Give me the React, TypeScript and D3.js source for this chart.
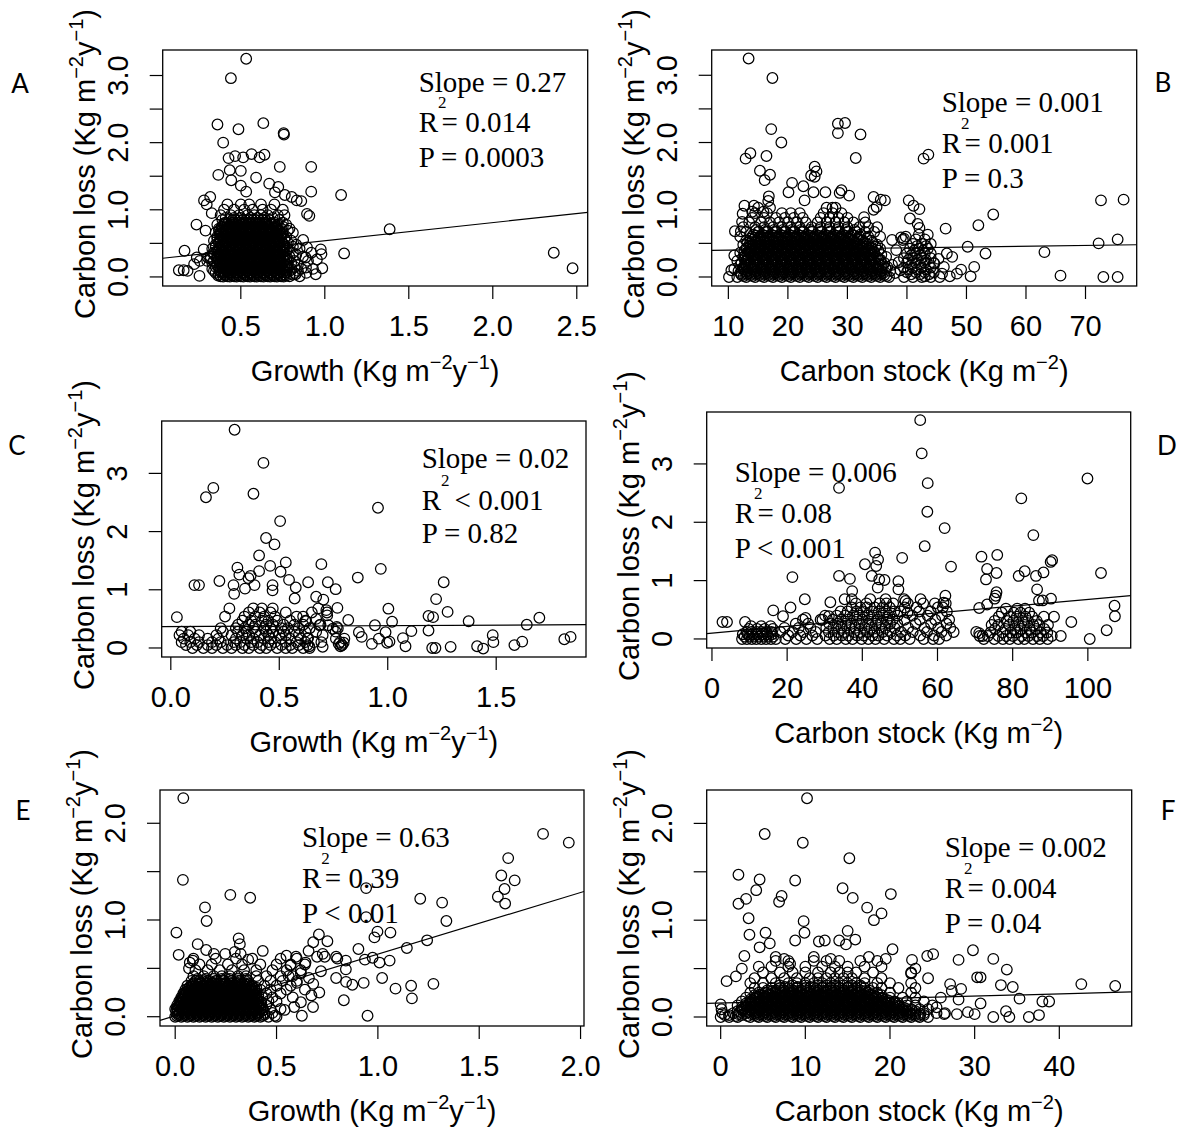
import React from 'react';
import * as d3 from 'd3';

type Pt = [number, number];
type Row = [number, number[]];

// ---------------- Panel A: Growth vs Carbon loss ----------------
const aOutliers: Pt[] = [
  [0.532,3.25],[0.441,2.96],[0.361,2.27],[0.486,2.20],[0.634,2.29],[0.755,2.14],[0.757,2.12],[0.395,2.0],
  [0.427,1.77],[0.466,1.80],[0.514,1.78],[0.564,1.83],[0.612,1.78],[0.641,1.82],[0.919,1.64],[0.732,1.64],
  [0.366,1.52],[0.434,1.59],[0.5,1.58],[0.591,1.48],[0.443,1.44],[0.5,1.36],[0.532,1.27],
  [0.669,1.39],[0.723,1.34],[0.703,1.26],[0.919,1.27],[1.097,1.22],[1.386,0.71],[1.115,0.35],
  [2.363,0.36],[2.475,0.13],[0.131,0.10],[0.16,0.10],[0.183,0.09],[0.165,0.39],[0.236,0.78],[0.254,0.015],
  [0.29,0.69],[0.281,1.14],[0.318,1.19],[0.297,1.08],[0.327,0.95],[0.762,1.22],[0.803,1.19],[0.833,1.14],
  [0.86,1.13],[0.894,0.94],[0.908,0.91],[0.976,0.41],[0.98,0.34],[0.953,0.26],[0.985,0.13],
  [0.238,0.29],[0.256,0.24],[0.279,0.41],[0.304,0.29],[0.222,0.19],[0.871,0.55],[0.894,0.44],[0.885,0.29],
  [0.888,0.14],[0.946,0.04],[0.826,0.04]
];
const aCoreRows: Row[] = [
  [0.01,[0.38,0.42,0.46,0.50,0.54,0.58,0.62,0.66,0.70,0.74,0.79,0.85]],
  [0.06,[0.35,0.40,0.44,0.48,0.52,0.56,0.60,0.64,0.68,0.72,0.77,0.82,0.89]],
  [0.12,[0.33,0.37,0.42,0.46,0.50,0.54,0.58,0.62,0.66,0.70,0.75,0.80,0.86,0.93]],
  [0.18,[0.36,0.40,0.44,0.48,0.52,0.56,0.60,0.64,0.68,0.72,0.78,0.84]],
  [0.24,[0.30,0.34,0.38,0.42,0.46,0.50,0.54,0.58,0.62,0.66,0.71,0.76,0.82,0.90]],
  [0.30,[0.32,0.36,0.40,0.44,0.48,0.52,0.56,0.60,0.64,0.68,0.73,0.79,0.87]],
  [0.36,[0.34,0.38,0.42,0.46,0.50,0.54,0.58,0.62,0.66,0.70,0.75,0.81,0.92]],
  [0.42,[0.33,0.37,0.41,0.45,0.49,0.53,0.57,0.61,0.65,0.69,0.74,0.78,0.85]],
  [0.48,[0.35,0.39,0.43,0.47,0.51,0.55,0.59,0.63,0.67,0.71,0.76,0.83]],
  [0.54,[0.34,0.38,0.42,0.46,0.50,0.54,0.58,0.62,0.66,0.70,0.74,0.80]],
  [0.60,[0.36,0.40,0.44,0.48,0.52,0.56,0.60,0.64,0.68,0.72,0.77]],
  [0.66,[0.35,0.39,0.43,0.47,0.51,0.55,0.59,0.63,0.67,0.71,0.75,0.81]],
  [0.72,[0.37,0.41,0.45,0.49,0.53,0.57,0.61,0.65,0.69,0.74,0.79]],
  [0.78,[0.36,0.40,0.44,0.48,0.52,0.56,0.60,0.64,0.68,0.72,0.77]],
  [0.85,[0.39,0.43,0.47,0.51,0.55,0.59,0.63,0.67,0.73]],
  [0.92,[0.38,0.44,0.49,0.54,0.58,0.62,0.66,0.72,0.76]],
  [1.00,[0.40,0.46,0.52,0.57,0.63,0.68,0.75]],
  [1.08,[0.42,0.50,0.55,0.62,0.70]]
];
const aDenseRows: Row[] = [
  [0.035,[0.37,0.40,0.44,0.48,0.52,0.56,0.60,0.64,0.68,0.72,0.76,0.81]],
  [0.09,[0.34,0.38,0.42,0.46,0.50,0.54,0.58,0.62,0.66,0.70,0.74,0.79,0.84]],
  [0.15,[0.35,0.39,0.44,0.48,0.52,0.56,0.60,0.64,0.68,0.72,0.77,0.82]],
  [0.21,[0.33,0.38,0.42,0.46,0.50,0.54,0.58,0.62,0.66,0.70,0.75,0.80]],
  [0.27,[0.32,0.36,0.40,0.44,0.48,0.52,0.56,0.60,0.64,0.68,0.73,0.78]],
  [0.33,[0.34,0.38,0.42,0.46,0.50,0.54,0.58,0.62,0.66,0.70,0.76,0.83]],
  [0.39,[0.36,0.40,0.44,0.48,0.52,0.56,0.60,0.64,0.68,0.72,0.77]],
  [0.45,[0.35,0.39,0.43,0.47,0.51,0.55,0.59,0.63,0.67,0.71,0.76,0.81]],
  [0.51,[0.37,0.41,0.45,0.49,0.53,0.57,0.61,0.65,0.69,0.73,0.78]],
  [0.57,[0.36,0.40,0.44,0.48,0.52,0.56,0.60,0.64,0.68,0.72,0.76]],
  [0.63,[0.38,0.42,0.46,0.50,0.54,0.58,0.62,0.66,0.70,0.74]],
  [0.69,[0.37,0.41,0.45,0.49,0.53,0.57,0.61,0.65,0.69,0.73,0.78]],
  [0.75,[0.39,0.43,0.47,0.51,0.55,0.59,0.63,0.67,0.71,0.75]],
  [0.81,[0.41,0.45,0.49,0.53,0.57,0.61,0.65,0.70,0.75]],
  [0.88,[0.41,0.46,0.50,0.56,0.60,0.64,0.69]]
];
const aDenserRows: Row[] = [
  [0.005,[0.395,0.435,0.475,0.515,0.555,0.595,0.635,0.675,0.715,0.755]],
  [0.065,[0.405,0.445,0.485,0.525,0.565,0.605,0.645,0.685,0.725,0.765]],
  [0.125,[0.39,0.43,0.47,0.51,0.55,0.59,0.63,0.67,0.71,0.75]],
  [0.185,[0.41,0.45,0.49,0.53,0.57,0.61,0.65,0.69,0.73,0.77]],
  [0.245,[0.395,0.435,0.475,0.515,0.555,0.595,0.635,0.675,0.715,0.755]],
  [0.305,[0.405,0.445,0.485,0.525,0.565,0.605,0.645,0.685,0.725]],
  [0.365,[0.39,0.43,0.47,0.51,0.55,0.59,0.63,0.67,0.71,0.75]],
  [0.425,[0.41,0.45,0.49,0.53,0.57,0.61,0.65,0.69,0.73]],
  [0.485,[0.395,0.435,0.475,0.515,0.555,0.595,0.635,0.675,0.715,0.755]],
  [0.545,[0.405,0.445,0.485,0.525,0.565,0.605,0.645,0.685,0.725]],
  [0.605,[0.39,0.43,0.47,0.51,0.55,0.59,0.63,0.67,0.71]],
  [0.665,[0.41,0.45,0.49,0.53,0.57,0.61,0.65,0.69,0.73]],
  [0.725,[0.395,0.435,0.475,0.515,0.555,0.595,0.635,0.675,0.715]],
  [0.785,[0.42,0.46,0.50,0.54,0.58,0.62,0.66,0.70]],
  [0.84,[0.45,0.49,0.53,0.57,0.61,0.65]],
  [0.02,[0.365,0.41,0.452,0.49,0.533,0.571,0.612,0.654,0.693,0.735,0.772]],
  [0.08,[0.375,0.418,0.457,0.497,0.538,0.578,0.617,0.659,0.698,0.74]],
  [0.14,[0.37,0.412,0.451,0.493,0.531,0.574,0.613,0.652,0.694,0.733,0.776]],
  [0.20,[0.378,0.417,0.459,0.498,0.537,0.579,0.618,0.657,0.699,0.738]],
  [0.26,[0.368,0.409,0.452,0.492,0.534,0.572,0.611,0.653,0.692,0.731,0.771]],
  [0.32,[0.374,0.414,0.456,0.496,0.539,0.577,0.616,0.658,0.697,0.737]],
  [0.38,[0.369,0.411,0.453,0.494,0.532,0.573,0.614,0.655,0.695,0.734]],
  [0.44,[0.377,0.416,0.458,0.499,0.536,0.576,0.619,0.656,0.696,0.739]],
  [0.50,[0.371,0.413,0.454,0.495,0.535,0.575,0.615,0.654,0.691,0.732]],
  [0.56,[0.379,0.419,0.457,0.497,0.538,0.578,0.618,0.659,0.699]],
  [0.62,[0.372,0.415,0.455,0.493,0.533,0.574,0.612,0.653,0.694,0.736]],
  [0.68,[0.381,0.42,0.459,0.498,0.539,0.577,0.617,0.657,0.697]],
  [0.74,[0.385,0.425,0.465,0.505,0.545,0.585,0.625,0.665,0.705]],
  [0.80,[0.40,0.44,0.48,0.52,0.56,0.60,0.64,0.68]]
];
const aFit = [0.269, 0.27];
const aNotes = ['Slope = 0.27', '= 0.014', 'P = 0.0003'];

// ---------------- Panel B: Carbon stock vs Carbon loss ----------------
const bOutliers: Pt[] = [
  [13.4,3.25],[17.4,2.96],[17.2,2.20],[18.9,2.0],[12.9,1.76],[13.7,1.84],[16.4,1.80],[15.3,1.58],[17.0,1.52],[16.1,1.44],
  [16.8,1.20],[16.7,1.13],[28.4,2.28],[29.6,2.29],[28.4,2.14],[32.2,2.12],[31.4,1.77],[42.8,1.76],[43.6,1.82],
  [24.5,1.64],[24.8,1.57],[23.9,1.51],[24.5,1.49],[20.7,1.40],[20.1,1.26],[22.6,1.35],[22.8,1.14],[24.3,1.26],
  [26.3,1.26],[28.7,1.25],[30.3,1.21],[29.0,1.29],[34.4,1.19],[35.6,1.15],[36.3,1.14],[34.9,1.04],[34.4,1.0],
  [40.3,1.14],[41.1,1.06],[42.1,1.01],[40.5,0.87],[41.8,0.79],[42.1,0.73],[46.5,0.72],[52.0,0.77],[54.5,0.93],
  [50.2,0.45],[53.2,0.35],[46.7,0.35],[63.1,0.37],[65.8,0.02],[72.6,1.14],[76.4,1.15],[72.2,0.50],[75.4,0.56],
  [73.0,0.0],[75.4,0.0],[51.3,0.15],[49.1,0.11],[50.7,0.01],[47.2,0.01],[48.4,0.05],[45.3,0.27],[44.6,0.20],
  [45.9,0.05],[43.0,0.01],[32.8,0.89],[39.5,0.57],[39.0,0.59],[10.1,0.0],[10.5,0.1],[11.0,0.32],[11.1,0.68],
  [12.1,0.68],[12.3,0.82],[12.4,0.94],[12.7,1.06],[14.3,1.06],[14.0,0.97],[15.9,0.97],[37.5,0.55],[38.2,0.4],
  [38.6,0.22],[38.9,0.1],[46.2,0.15],[47.6,0.3],[39.3,0.55],[39.8,0.6]
];
const bCoreRows: Row[] = [
  [0.00,[11.5,13,14.5,16,17.5,19,20.5,22,23.5,25,26.5,28,29.5,31,32.5,34,35.5,37]],
  [0.06,[12,13.5,15,16.5,18,19.5,21,22.5,24,25.5,27,28.5,30,31.5,33,34.5,36,38]],
  [0.12,[11,12.5,14,15.5,17,18.5,20,21.5,23,24.5,26,27.5,29,30.5,32,33.5,35,36.5]],
  [0.18,[12,13.5,15,16.5,18,19.5,21,22.5,24,25.5,27,28.5,30,31.5,33,34.5,36,37.5]],
  [0.24,[11.5,13,14.5,16,17.5,19,20.5,22,23.5,25,26.5,28,29.5,31,32.5,34,35.5]],
  [0.30,[12.5,14,15.5,17,18.5,20,21.5,23,24.5,26,27.5,29,30.5,32,33.5,35,36.5]],
  [0.36,[12,13.5,15,16.5,18,19.5,21,22.5,24,25.5,27,28.5,30,31.5,33,34.5]],
  [0.42,[13,14.5,16,17.5,19,20.5,22,23.5,25,26.5,28,29.5,31,32.5,34,35.5]],
  [0.48,[12.5,14,15.5,17,18.5,20,21.5,23,24.5,26,27.5,29,30.5,32,33.5,35]],
  [0.54,[13,14.5,16,17.5,19,20.5,22,23.5,25,26.5,28,29.5,31,32.5,34]],
  [0.60,[12,14,15.5,17,18.5,20,21.5,23,24.5,26,27.5,29,30.5,32,33.5,35.5]],
  [0.67,[13,15,16.5,18,19.5,21,22.5,24,25.5,27,28.5,30,31.5,33,34.5]],
  [0.74,[12.5,14.5,16,17.5,19,20.5,22,24,25.5,27,28.5,30,32,33.5,35]],
  [0.81,[13.5,15.5,17,18.5,20,21.5,23,25,26.5,28,29.5,31,33]],
  [0.88,[14,16,18,19.5,21,22.5,25.5,27,28.5,30]],
  [0.95,[14.5,16.5,19,20.5,22,26,27.5,29]],
  [1.03,[15,17,26.5,27.5,28]],
  [0.00,[39.5,41,42.5,44,45.5]],
  [0.07,[40,41.5,43,44.5]],
  [0.14,[39.5,41,42.5,44]],
  [0.21,[40,41.5,43,44.5]],
  [0.28,[39.5,41,42.5,44]],
  [0.35,[40,41.5,43,44]],
  [0.42,[40.5,42,43.5]],
  [0.49,[41,42.5,44]],
  [0.56,[41.5,43]],
  [0.63,[42,43.5]]
];
const bDenseRows: Row[] = [
  [0.03,[12.2,13.7,15.2,16.7,18.2,19.7,21.2,22.7,24.2,25.7,27.2,28.7,30.2,31.7,33.2,34.7,36.2]],
  [0.09,[11.7,13.2,14.7,16.2,17.7,19.2,20.7,22.2,23.7,25.2,26.7,28.2,29.7,31.2,32.7,34.2,35.7,37.2]],
  [0.15,[12.7,14.2,15.7,17.2,18.7,20.2,21.7,23.2,24.7,26.2,27.7,29.2,30.7,32.2,33.7,35.2,36.7]],
  [0.21,[12.2,13.7,15.2,16.7,18.2,19.7,21.2,22.7,24.2,25.7,27.2,28.7,30.2,31.7,33.2,34.7,36.2]],
  [0.27,[12.7,14.2,15.7,17.2,18.7,20.2,21.7,23.2,24.7,26.2,27.7,29.2,30.7,32.2,33.7,35.2]],
  [0.33,[13.2,14.7,16.2,17.7,19.2,20.7,22.2,23.7,25.2,26.7,28.2,29.7,31.2,32.7,34.2,35.7]],
  [0.39,[12.7,14.2,15.7,17.2,18.7,20.2,21.7,23.2,24.7,26.2,27.7,29.2,30.7,32.2,33.7,35.2]],
  [0.45,[13.7,15.2,16.7,18.2,19.7,21.2,22.7,24.2,25.7,27.2,28.7,30.2,31.7,33.2,34.7]],
  [0.51,[13.2,14.7,16.2,17.7,19.2,20.7,22.2,23.7,25.2,26.7,28.2,29.7,31.2,32.7,34.2]],
  [0.57,[13.7,15.2,16.7,18.2,19.7,21.2,22.7,24.2,25.7,27.2,28.7,30.2,31.7,33.2]],
  [0.63,[14.2,15.7,17.2,18.7,20.2,21.7,23.2,24.7,26.2,27.7,29.2,30.7,32.2]],
  [0.70,[14.7,16.2,17.7,19.2,20.7,22.2,23.7,25.2,26.7,28.2,29.7,31.2]],
  [0.04,[40.7,42.2,43.7]],
  [0.11,[40.2,41.7,43.2]],
  [0.18,[40.7,42.2,43.7]],
  [0.25,[40.2,41.7,43.2]],
  [0.32,[40.7,42.2]],
  [0.39,[41.2,42.7]],
  [0.46,[41.7,43.2]],
  [0.015,[12.6,14.1,15.6,17.1,18.6,20.1,21.6,23.1,24.6,26.1,27.6,29.1,30.6,32.1,33.6,35.1,36.6]],
  [0.075,[12.9,14.4,15.9,17.4,18.9,20.4,21.9,23.4,24.9,26.4,27.9,29.4,30.9,32.4,33.9,35.4]],
  [0.135,[12.4,13.9,15.4,16.9,18.4,19.9,21.4,22.9,24.4,25.9,27.4,28.9,30.4,31.9,33.4,34.9,36.4]],
  [0.195,[12.8,14.3,15.8,17.3,18.8,20.3,21.8,23.3,24.8,26.3,27.8,29.3,30.8,32.3,33.8,35.3]],
  [0.255,[13.1,14.6,16.1,17.6,19.1,20.6,22.1,23.6,25.1,26.6,28.1,29.6,31.1,32.6,34.1,35.6]],
  [0.315,[12.9,14.4,15.9,17.4,18.9,20.4,21.9,23.4,24.9,26.4,27.9,29.4,30.9,32.4,33.9]],
  [0.375,[13.4,14.9,16.4,17.9,19.4,20.9,22.4,23.9,25.4,26.9,28.4,29.9,31.4,32.9,34.4]],
  [0.435,[13.1,14.6,16.1,17.6,19.1,20.6,22.1,23.6,25.1,26.6,28.1,29.6,31.1,32.6,34.1]],
  [0.495,[13.6,15.1,16.6,18.1,19.6,21.1,22.6,24.1,25.6,27.1,28.6,30.1,31.6,33.1]],
  [0.555,[14.1,15.6,17.1,18.6,20.1,21.6,23.1,24.6,26.1,27.6,29.1,30.6,32.1]],
  [0.615,[14.6,16.1,17.6,19.1,20.6,22.1,23.6,25.1,26.6,28.1,29.6,31.1]],
  [0.675,[15.1,16.6,18.1,19.6,21.1,22.6,24.1,25.6,27.1,28.6,30.1]]
];
const bDenserRows: Row[] = [
  [0.045,[13.1,14.6,16.1,17.6,19.1,20.6,22.1,23.6,25.1,26.6,28.1,29.6,31.1,32.6,34.1,35.6]],
  [0.105,[12.6,14.1,15.6,17.1,18.6,20.1,21.6,23.1,24.6,26.1,27.6,29.1,30.6,32.1,33.6,35.1]],
  [0.165,[13.1,14.6,16.1,17.6,19.1,20.6,22.1,23.6,25.1,26.6,28.1,29.6,31.1,32.6,34.1,35.6]],
  [0.225,[12.9,14.4,15.9,17.4,18.9,20.4,21.9,23.4,24.9,26.4,27.9,29.4,30.9,32.4,33.9]],
  [0.285,[13.4,14.9,16.4,17.9,19.4,20.9,22.4,23.9,25.4,26.9,28.4,29.9,31.4,32.9,34.4]],
  [0.345,[13.6,15.1,16.6,18.1,19.6,21.1,22.6,24.1,25.6,27.1,28.6,30.1,31.6,33.1]],
  [0.405,[13.9,15.4,16.9,18.4,19.9,21.4,22.9,24.4,25.9,27.4,28.9,30.4,31.9,33.4]],
  [0.465,[14.1,15.6,17.1,18.6,20.1,21.6,23.1,24.6,26.1,27.6,29.1,30.6,32.1]],
  [0.525,[14.6,16.1,17.6,19.1,20.6,22.1,23.6,25.1,26.6,28.1,29.6,31.1]],
  [0.585,[15.1,16.6,18.1,19.6,21.1,22.6,24.1,25.6,27.1,28.6,30.1]]
];
const bFit = [0.387, 0.00118];
const bNotes = ['Slope = 0.001', '= 0.001', 'P = 0.3'];

// ---------------- Panel C: Growth vs Carbon loss ----------------
const cOutliers: Pt[] = [
  [0.294,3.75],[0.427,3.18],[0.162,2.59],[0.196,2.75],[0.381,2.65],[0.955,2.41],[0.504,2.18],[0.439,1.89],[0.478,1.78],
  [0.407,1.59],[0.53,1.47],[0.458,1.41],[0.694,1.44],[0.307,1.38],[0.316,1.26],[0.407,1.32],[0.368,1.24],[0.358,1.20],[0.506,1.31],
  [0.968,1.36],[0.862,1.21],[0.545,1.17],[0.469,1.08],[0.469,0.99],[0.576,1.04],[0.633,1.13],[0.724,1.13],[0.76,1.01],
  [0.224,1.15],[0.109,1.08],[0.13,1.08],[0.289,1.08],[0.292,0.93],[0.342,1.02],[0.386,1.08],
  [1.258,1.13],[1.223,0.84],[1.188,0.55],[1.209,0.53],[1.276,0.62],[0.571,0.85],[0.67,0.88],[0.703,0.83],[0.768,0.69],[0.717,0.65],
  [1.003,0.675],[0.818,0.48],[1.02,0.45],[1.109,0.29],[1.07,0.17],[1.082,0.03],[1.373,0.46],[1.699,0.52],[1.641,0.40],
  [1.484,0.22],[1.487,0.10],[1.584,0.05],[1.62,0.11],[1.412,0.03],[1.44,-0.01],[1.29,0.02],[1.205,0.0],[1.22,0.0],[1.188,0.30],
  [1.814,0.15],[1.843,0.19],[0.028,0.53],[0.867,0.27],[0.88,0.19],[0.927,0.07],[0.941,0.39],[0.959,0.16],[0.99,0.27],[0.997,0.09],[1.008,0.11],
  [0.624,0.46],[0.67,0.50],[0.686,0.39],[0.726,0.39],[0.747,0.33],[0.761,0.16],[0.774,0.07],[0.788,0.05],[0.797,0.09],[0.782,0.03],
  [0.765,0.36],[0.721,0.56],[0.694,0.10],[0.70,0.02],[0.633,0.17],[0.638,0.03]
];
const cCoreRows: Row[] = [
  [0.00,[0.10,0.15,0.19,0.24,0.28,0.33,0.36,0.41,0.44,0.49,0.53,0.56,0.61,0.64]],
  [0.05,[0.07,0.12,0.17,0.21,0.26,0.30,0.34,0.38,0.42,0.46,0.51,0.55,0.59,0.63,0.79]],
  [0.10,[0.05,0.09,0.13,0.19,0.23,0.29,0.32,0.37,0.40,0.45,0.48,0.53,0.58,0.62,0.66,0.78]],
  [0.16,[0.06,0.11,0.17,0.22,0.30,0.35,0.38,0.43,0.46,0.51,0.55,0.60,0.63,0.80]],
  [0.22,[0.04,0.08,0.13,0.21,0.28,0.33,0.36,0.41,0.45,0.50,0.53,0.59,0.70]],
  [0.28,[0.05,0.09,0.24,0.31,0.35,0.39,0.44,0.47,0.52,0.57,0.62,0.67,0.76]],
  [0.34,[0.23,0.30,0.34,0.38,0.43,0.46,0.51,0.54,0.59,0.64,0.77]],
  [0.40,[0.31,0.36,0.39,0.44,0.47,0.52,0.57,0.61,0.69]],
  [0.47,[0.33,0.37,0.42,0.45,0.49,0.55,0.62]],
  [0.54,[0.25,0.34,0.39,0.43,0.48,0.58,0.61]],
  [0.61,[0.36,0.41,0.46,0.53,0.65,0.72]],
  [0.68,[0.27,0.38,0.42,0.47,0.68]]
];
const cFit = [0.367, 0.0174];
const cNotes = ['Slope = 0.02', '< 0.001', 'P = 0.82'];

// ---------------- Panel D: Carbon stock vs Carbon loss ----------------
const dOutliers: Pt[] = [
  [55.4,3.75],[55.8,3.18],[33.8,2.59],[57.4,2.67],[57.3,2.18],[61.9,1.90],[56.6,1.59],[99.9,2.75],[82.3,2.41],[85.5,1.78],
  [43.4,1.48],[44.2,1.36],[43.7,1.25],[40.7,1.28],[44.5,1.02],[45.9,1.01],[42.5,1.08],[44.1,0.88],[50.6,1.39],[49.6,0.99],[49.6,0.85],
  [63.6,1.24],[33.8,1.08],[36.7,1.03],[37.3,0.82],[21.4,1.06],
  [71.7,1.41],[75.9,1.44],[73.2,1.20],[72.9,1.02],[75.7,1.13],[75.7,0.80],[75.5,0.74],[75.2,0.69],
  [81.6,1.08],[83.2,1.16],[86.2,1.08],[88.2,1.14],[90.1,1.32],[90.5,1.35],[86.5,0.85],[87.0,0.66],[88.0,0.66],[90.2,0.69],
  [103.5,1.13],[107.1,0.57],[107.2,0.39],[105,0.15],[100.5,0.0],[95.6,0.29],[92.8,0.05],[91,0.38],
  [2.8,0.29],[4.0,0.29],[8.8,0.29],[16.3,0.49],[18.9,0.39],[20.9,0.54],[24.7,0.68],[24.9,0.36],[31.5,0.63],[28.9,0.33],[31.1,0.39],
  [71.1,0.53],[73.2,0.59],[71.1,0.10],[70.3,0.12],[72.0,0.05],[62.1,0.74],[61.6,0.62],[51.5,0.65],[52,0.45]
];
const dCoreRows: Row[] = [
  [0.00,[8,9.3,10.6,11.8,13.1,14.4,15.7,17]],
  [0.04,[8.7,10,11.2,12.5,13.8,15,16.3]],
  [0.08,[8.2,9.5,10.8,12,13.4,14.7,16]],
  [0.12,[9.2,10.5,11.9,13.2,14.5,15.8]],
  [0.17,[9.8,12,14,16.2]],
  [0.22,[10.4,13.1,15.6]],
  [0.00,[19.5,22.4,25.1,28,31.3,33.2,35.6,37.4,39.8,41.6,43.5,45.8,48.4,50.1,52.6,56.3,58.8,60.4]],
  [0.06,[20.3,23.5,26.7,30.2,32.4,34.5,36.3,38.6,40.4,42.7,44.3,46.6,49.2,51.4,55.4,59.1,62.3]],
  [0.12,[18.2,21.4,24.3,27.6,31.1,33.5,35.2,37.8,39.4,41.3,43.2,45.4,47.5,50.3,53.4,57.2,61.1,64.3]],
  [0.19,[19.3,23.1,26.2,30.4,32.3,34.4,36.6,38.2,40.6,42.4,44.5,46.2,48.6,52.2,56.5,60.2,63.4]],
  [0.26,[22.3,25.6,31.2,33.4,35.5,37.1,39.3,41.5,43.6,45.2,47.4,49.3,54.2,58.3,62.4]],
  [0.33,[24.2,29.4,32.1,34.3,36.2,38.5,40.1,42.3,44.2,46.5,48.1,51.2,55.3,59.4,63.1]],
  [0.40,[30.1,33.2,35.4,37.5,39.2,41.4,43.1,45.5,47.2,49.4,53.3,57.4,61.2]],
  [0.47,[34.2,36.1,38.4,40.3,42.5,44.4,46.3,48.5,50.2,55.1,58.2,62.5]],
  [0.54,[37.2,39.5,41.2,43.3,45.4,47.3,51.3,54.4,60.1,61.4]],
  [0.61,[38.3,41.1,44.6,46.4,48.2,52.1,56.2,59.3,62.2]],
  [0.68,[35.3,37.2,42.1,46.2,51.1,55.5]],
  [0.00,[72.3,75.1,77.4,79.2,81.5,83.1,85.4,87.2,89.3]],
  [0.05,[71.2,73.4,76.2,78.3,80.1,82.4,84.2,86.5,88.1,90.4]],
  [0.11,[74.1,77.3,79.4,81.2,83.5,85.1,87.4,89.2]],
  [0.17,[75.3,78.1,80.4,82.2,84.5,86.3,88.4]],
  [0.24,[74.4,76.2,79.1,81.4,83.2,85.5,87.1,89.4]],
  [0.31,[75.2,78.4,80.2,82.5,84.1,86.4]],
  [0.38,[76.3,79.2,81.1,83.4,85.2,88.3]],
  [0.45,[77.1,80.3,82.1,84.4]],
  [0.52,[78.2,81.2,83.3]]
];
const dFit = [0.100, 0.00578];
const dNotes = ['Slope = 0.006', '= 0.08', 'P < 0.001'];

// ---------------- Panel E: Growth vs Carbon loss ----------------
const eOutliers: Pt[] = [
  [0.04,2.26],[0.038,1.415],[0.272,1.26],[0.37,1.23],[0.147,1.13],[0.155,0.99],[0.006,0.87],[0.017,0.64],
  [1.815,1.89],[1.942,1.80],[1.643,1.64],[1.609,1.46],[1.675,1.41],[1.625,1.32],[1.592,1.24],[1.628,1.17],
  [0.942,1.33],[1.209,1.22],[1.317,1.18],[0.942,1.03],[1.338,0.99],[0.998,0.88],[0.983,0.82],[1.062,0.87],
  [1.243,0.79],[1.143,0.71],[0.904,0.70],[0.936,0.59],[0.974,0.61],[1.008,0.56],[1.058,0.58],
  [1.021,0.40],[1.087,0.29],[1.164,0.32],[1.168,0.19],[1.274,0.34],[0.93,0.35],[0.832,0.17],[0.874,0.33],[0.843,0.36],
  [0.949,0.01],[0.794,0.40],[0.709,0.85],[0.681,0.77],[0.751,0.78],[0.728,0.65],[0.658,0.68],[0.70,0.62],[0.738,0.62],
  [0.794,0.62],[0.80,0.60],[0.842,0.58],[0.842,0.49],[0.719,0.47],[0.681,0.34],[0.711,0.25],[0.672,0.22],
  [0.313,0.81],[0.319,0.75],[0.323,0.65],[0.294,0.67],[0.36,0.59],[0.432,0.68],[0.111,0.75],[0.153,0.69],[0.191,0.65],
  [0.247,0.65],[0.072,0.56],[0.087,0.58],[0.068,0.50],[0.549,0.63],[0.596,0.62],[0.643,0.56],[0.568,0.53],
  [0.54,0.07],[0.587,0.10],[0.625,0.01],[0.492,0.01],[0.62,0.45],[0.66,0.40],[0.6,0.35],[0.64,0.28],[0.58,0.2],
  [0.62,0.15],[0.68,0.1],[0.56,0.42]
];
const eCoreRows: Row[] = [
  [0.00,[0.00,0.03,0.06,0.09,0.12,0.15,0.18,0.21,0.24,0.27,0.30,0.33,0.36,0.39,0.42,0.46,0.50]],
  [0.04,[0.01,0.04,0.07,0.10,0.13,0.16,0.19,0.22,0.25,0.28,0.31,0.34,0.37,0.40,0.44,0.48]],
  [0.08,[0.00,0.03,0.06,0.09,0.12,0.15,0.18,0.21,0.24,0.27,0.30,0.33,0.36,0.39,0.42,0.47,0.52]],
  [0.12,[0.01,0.04,0.07,0.10,0.13,0.16,0.19,0.22,0.25,0.28,0.31,0.34,0.37,0.40,0.45]],
  [0.16,[0.02,0.05,0.08,0.11,0.14,0.17,0.20,0.23,0.26,0.29,0.32,0.35,0.38,0.41,0.46,0.50]],
  [0.20,[0.03,0.06,0.09,0.12,0.15,0.18,0.21,0.24,0.27,0.30,0.33,0.36,0.39,0.43,0.48]],
  [0.24,[0.04,0.07,0.10,0.13,0.16,0.19,0.22,0.25,0.28,0.31,0.34,0.37,0.40,0.45,0.52]],
  [0.28,[0.05,0.08,0.11,0.14,0.17,0.20,0.23,0.26,0.29,0.32,0.35,0.38,0.42,0.47,0.55]],
  [0.32,[0.06,0.10,0.14,0.18,0.22,0.26,0.30,0.34,0.38,0.44,0.50,0.57]],
  [0.37,[0.08,0.12,0.16,0.20,0.24,0.28,0.32,0.36,0.41,0.47,0.53,0.60]],
  [0.42,[0.09,0.14,0.19,0.23,0.27,0.31,0.35,0.40,0.45,0.52,0.58]],
  [0.48,[0.10,0.16,0.22,0.28,0.34,0.40,0.48,0.55,0.62]],
  [0.54,[0.12,0.18,0.26,0.33,0.42,0.50,0.57,0.64]],
  [0.60,[0.09,0.20,0.30,0.38,0.52,0.60]]
];
const eDenseRows: Row[] = [
  [0.02,[0.015,0.045,0.075,0.105,0.135,0.165,0.195,0.225,0.255,0.285,0.315,0.345,0.375,0.405,0.44]],
  [0.06,[0.005,0.035,0.065,0.095,0.125,0.155,0.185,0.215,0.245,0.275,0.305,0.335,0.365,0.395,0.43]],
  [0.10,[0.015,0.045,0.075,0.105,0.135,0.165,0.195,0.225,0.255,0.285,0.315,0.345,0.375,0.41]],
  [0.14,[0.025,0.055,0.085,0.115,0.145,0.175,0.205,0.235,0.265,0.295,0.325,0.355,0.385,0.42]],
  [0.18,[0.035,0.065,0.095,0.125,0.155,0.185,0.215,0.245,0.275,0.305,0.335,0.365,0.40]],
  [0.22,[0.045,0.075,0.105,0.135,0.165,0.195,0.225,0.255,0.285,0.315,0.345,0.375,0.41]],
  [0.26,[0.055,0.085,0.115,0.145,0.175,0.205,0.235,0.265,0.295,0.325,0.355,0.39]],
  [0.30,[0.07,0.10,0.13,0.16,0.19,0.22,0.25,0.28,0.31,0.34,0.37,0.40]],
  [0.345,[0.09,0.12,0.15,0.18,0.21,0.24,0.27,0.30,0.33,0.36]],
  [0.39,[0.11,0.15,0.19,0.23,0.27,0.31,0.35]],
  [0.01,[0.008,0.038,0.068,0.098,0.128,0.158,0.188,0.218,0.248,0.278,0.308,0.338,0.368,0.398,0.43]],
  [0.05,[0.022,0.052,0.082,0.112,0.142,0.172,0.202,0.232,0.262,0.292,0.322,0.352,0.382,0.412]],
  [0.09,[0.008,0.038,0.068,0.098,0.128,0.158,0.188,0.218,0.248,0.278,0.308,0.338,0.368,0.398,0.43]],
  [0.13,[0.022,0.052,0.082,0.112,0.142,0.172,0.202,0.232,0.262,0.292,0.322,0.352,0.382,0.412]],
  [0.17,[0.028,0.058,0.088,0.118,0.148,0.178,0.208,0.238,0.268,0.298,0.328,0.358,0.388]],
  [0.21,[0.038,0.068,0.098,0.128,0.158,0.188,0.218,0.248,0.278,0.308,0.338,0.368,0.40]],
  [0.25,[0.048,0.078,0.108,0.138,0.168,0.198,0.228,0.258,0.288,0.318,0.348,0.38]],
  [0.29,[0.062,0.092,0.122,0.152,0.182,0.212,0.242,0.272,0.302,0.332,0.362,0.39]],
  [0.33,[0.082,0.112,0.142,0.172,0.202,0.232,0.262,0.292,0.322,0.352]],
  [0.37,[0.10,0.135,0.17,0.205,0.24,0.275,0.31,0.345]]
];
const eDenserRows: Row[] = [
  [0.03,[0.02,0.05,0.08,0.11,0.14,0.17,0.20,0.23,0.26,0.29,0.32,0.35,0.38,0.41]],
  [0.07,[0.012,0.042,0.072,0.102,0.132,0.162,0.192,0.222,0.252,0.282,0.312,0.342,0.372,0.402,0.435]],
  [0.11,[0.02,0.05,0.08,0.11,0.14,0.17,0.20,0.23,0.26,0.29,0.32,0.35,0.38,0.415]],
  [0.15,[0.032,0.062,0.092,0.122,0.152,0.182,0.212,0.242,0.272,0.302,0.332,0.362,0.392,0.425]],
  [0.19,[0.04,0.07,0.10,0.13,0.16,0.19,0.22,0.25,0.28,0.31,0.34,0.37,0.405]],
  [0.23,[0.052,0.082,0.112,0.142,0.172,0.202,0.232,0.262,0.292,0.322,0.352,0.385]],
  [0.27,[0.065,0.095,0.125,0.155,0.185,0.215,0.245,0.275,0.305,0.335,0.365,0.395]],
  [0.31,[0.078,0.108,0.138,0.168,0.198,0.228,0.258,0.288,0.318,0.348,0.378]],
  [0.35,[0.10,0.13,0.16,0.19,0.22,0.25,0.28,0.31,0.34]]
];
const eFit = [0.010, 0.637];
const eNotes = ['Slope = 0.63', '= 0.39', 'P < 0.01'];

// ---------------- Panel F: Carbon stock vs Carbon loss ----------------
const fOutliers: Pt[] = [
  [10.2,2.26],[5.2,1.89],[9.7,1.80],[15.2,1.64],[2.1,1.47],[4.6,1.42],[8.8,1.41],[4.2,1.31],
  [3.0,1.22],[2.1,1.17],[7.2,1.25],[6.9,1.19],[14.4,1.33],[15.6,1.23],[17.3,1.13],[19.0,1.07],[18.1,1.0],[20.1,1.27],
  [3.3,1.02],[3.4,0.85],[5.3,0.87],[5.8,0.76],[4.6,0.72],[9.8,0.99],[9.9,0.87],[8.8,0.79],
  [2.8,0.63],[2.5,0.50],[1.8,0.42],[0.7,0.37],[15.0,0.89],[15.9,0.80],[14.0,0.79],[11.6,0.78],[12.3,0.79],[14.8,0.75],
  [20.3,0.70],[22.6,0.59],[24.4,0.63],[25.1,0.65],[28.1,0.59],[29.8,0.69],[32.2,0.60],[33.8,0.49],
  [30.3,0.41],[30.7,0.41],[33.1,0.33],[34.5,0.31],[42.6,0.34],[46.6,0.32],[35.3,0.19],[38.0,0.16],[38.8,0.16],
  [30.7,0.14],[30.0,0.03],[32.2,0.0],[33.7,0.06],[34.1,0.0],[36.4,0.0],[37.6,0.02],[27.9,0.03],[29.2,0.05],[26.4,0.03],
  [27.1,0.34],[27.3,0.27],[28.4,0.29],[28.1,0.18],[0.0,0.13],[0.1,0.08],[0.5,0.02],
  [6.5,0.62],[7.5,0.6],[8.2,0.55],[11,0.62],[13,0.6],[17.5,0.62],[19.5,0.6],[22.5,0.45],[23,0.5],[24.5,0.4],[26,0.2],[25.5,0.1]
];
const fCoreRows: Row[] = [
  [0.00,[0,1,2,3.5,4.5,5.5,6.5,7.5,8.5,9.5,10.5,11.5,12.5,13.5,14.5,15.5,16.5,17.5,18.5,19.5,20.5,21.5,22.5,23.5,24.5]],
  [0.04,[0.2,1.5,3,4,5,6,7,8,9,10,11,12,13,14,15,16,17,18,19,20,21,22,23,24,25.5,26.5]],
  [0.08,[2.5,3.5,4.5,5.5,6.5,7.5,8.5,9.5,10.5,11.5,12.5,13.5,14.5,15.5,16.5,17.5,18.5,19.5,20.5,21.5,22.5,23.5,24.5]],
  [0.12,[2,3,4,5,6,7,8,9,10,11,12,13,14,15,16,17,18,19,20,21,22,23,25]],
  [0.16,[2.5,3.5,4.5,5.5,6.5,7.5,8.5,9.5,10.5,11.5,12.5,13.5,14.5,15.5,16.5,17.5,18.5,19.5,20.5,22,24]],
  [0.20,[3,4,5,6,7,8,9,10,11,12,13,14,15,16,17,18,19,20,21.5,23]],
  [0.25,[3.5,4.5,5.5,6.5,7.5,8.5,9.5,10.5,11.5,12.5,13.5,14.5,15.5,16.5,17.5,18.5,20,22.5]],
  [0.30,[4,5,6,7,8,9,10,11,12,13,14,15,16,17,18,19,21,23]],
  [0.35,[3.5,5,6.5,8,9,10,11,12,13,14,15,16,17,18.5,20,22.5]],
  [0.40,[4,6,7.5,9,10.5,11.5,12.5,13.5,14.5,15.5,17,19]],
  [0.46,[5,7,8.5,10,11.5,13,14,15,16,18,22.5]],
  [0.52,[4.5,6,8,10,12,13.5,15,17,19]],
  [0.58,[6.5,8,11,12.5,14,16.5,18.5]]
];
const fDenseRows: Row[] = [
  [0.02,[1,2.5,4,5,6,7,8,9,10,11,12,13,14,15,16,17,18,19,20,21,22,23,24]],
  [0.06,[2,3,4,5,6,7,8,9,10,11,12,13,14,15,16,17,18,19,20,21,22,23]],
  [0.10,[2.5,3.5,4.5,5.5,6.5,7.5,8.5,9.5,10.5,11.5,12.5,13.5,14.5,15.5,16.5,17.5,18.5,19.5,20.5,21.5]],
  [0.14,[3,4,5,6,7,8,9,10,11,12,13,14,15,16,17,18,19,20,21]],
  [0.18,[3.5,4.5,5.5,6.5,7.5,8.5,9.5,10.5,11.5,12.5,13.5,14.5,15.5,16.5,17.5,18.5,19.5]],
  [0.225,[4,5,6,7,8,9,10,11,12,13,14,15,16,17,18,19]],
  [0.275,[5.5,6.5,7.5,8.5,9.5,10.5,11.5,12.5,13.5,14.5,15.5,16.5,17.5]],
  [0.325,[7,8.5,10,11.5,12.5,13.5,14.5,15.5,16.5]],
  [0.01,[1.8,3.2,4.3,5.3,6.3,7.3,8.3,9.3,10.3,11.3,12.3,13.3,14.3,15.3,16.3,17.3,18.3,19.3,20.3,21.3,22.3,23.3]],
  [0.05,[2.3,3.3,4.3,5.3,6.3,7.3,8.3,9.3,10.3,11.3,12.3,13.3,14.3,15.3,16.3,17.3,18.3,19.3,20.3,21.3,22.3]],
  [0.09,[2.8,3.8,4.8,5.8,6.8,7.8,8.8,9.8,10.8,11.8,12.8,13.8,14.8,15.8,16.8,17.8,18.8,19.8,20.8,21.8]],
  [0.13,[3.3,4.3,5.3,6.3,7.3,8.3,9.3,10.3,11.3,12.3,13.3,14.3,15.3,16.3,17.3,18.3,19.3,20.3]],
  [0.17,[3.8,4.8,5.8,6.8,7.8,8.8,9.8,10.8,11.8,12.8,13.8,14.8,15.8,16.8,17.8,18.8,19.8]],
  [0.21,[4.3,5.3,6.3,7.3,8.3,9.3,10.3,11.3,12.3,13.3,14.3,15.3,16.3,17.3,18.3]],
  [0.25,[5.3,6.3,7.3,8.3,9.3,10.3,11.3,12.3,13.3,14.3,15.3,16.3,17.3]],
  [0.29,[6.8,8.3,9.8,11.3,12.8,14.3,15.8]]
];
const fDenserRows: Row[] = [
  [0.03,[2.1,3.6,4.6,5.6,6.6,7.6,8.6,9.6,10.6,11.6,12.6,13.6,14.6,15.6,16.6,17.6,18.6,19.6,20.6,21.6,22.6,23.6]],
  [0.07,[2.6,3.6,4.6,5.6,6.6,7.6,8.6,9.6,10.6,11.6,12.6,13.6,14.6,15.6,16.6,17.6,18.6,19.6,20.6,21.6,22.6]],
  [0.11,[3.1,4.1,5.1,6.1,7.1,8.1,9.1,10.1,11.1,12.1,13.1,14.1,15.1,16.1,17.1,18.1,19.1,20.1,21.1]],
  [0.15,[3.6,4.6,5.6,6.6,7.6,8.6,9.6,10.6,11.6,12.6,13.6,14.6,15.6,16.6,17.6,18.6,19.6,20.6]],
  [0.19,[4.1,5.1,6.1,7.1,8.1,9.1,10.1,11.1,12.1,13.1,14.1,15.1,16.1,17.1,18.1,19.1]],
  [0.23,[4.6,5.6,6.6,7.6,8.6,9.6,10.6,11.6,12.6,13.6,14.6,15.6,16.6,17.6,18.6]],
  [0.27,[6.1,7.1,8.1,9.1,10.1,11.1,12.1,13.1,14.1,15.1,16.1,17.1]],
  [0.31,[7.6,9.1,10.6,12.1,13.6,15.1,16.6]]
];
const fFit = [0.145, 0.00235];
const fNotes = ['Slope = 0.002', '= 0.004', 'P = 0.04'];

// ---------------- Axis ticks ----------------
const aXTicks = [0.5, 1.0, 1.5, 2.0, 2.5];
const bXTicks = [10, 20, 30, 40, 50, 60, 70];
const cXTicks = [0.0, 0.5, 1.0, 1.5];
const dXTicks = [0, 20, 40, 60, 80, 100];
const eXTicks = [0.0, 0.5, 1.0, 1.5, 2.0];
const fXTicks = [0, 10, 20, 30, 40];
const abYTicks = [0, 0.5, 1, 1.5, 2, 2.5, 3];
const abYLabels = [0, 1, 2, 3];
const cdYTicks = [0, 1, 2, 3];
const efYTicks = [0, 0.5, 1, 1.5, 2];
const efYLabels = [0, 1, 2];

type Box = { x0: number; y0: number; x1: number; y1: number };
interface PanelSpec {
  id: string;
  box: Box;
  xDomain: [number, number];
  yDomain: [number, number];
  points: Pt[];
  fit: number[];
  notes: string[];
  noteDx: number;
  noteDy: number[];
  xTicks: number[];
  xFmt: string;
  yTicks: number[];
  yLabels: number[];
  yFmt: string;
  xTitle: 'growth' | 'stock';
  letter: [number, number];
}

const build = (out: Pt[], ...rowSets: Row[][]): Pt[] =>
  out.concat(rowSets.flat().flatMap(([y, xs]) => xs.map((x) => [x, y] as Pt)));

const panels: PanelSpec[] = [
  { id: 'A', box: { x0: 162.7, y0: 50, x1: 587.7, y1: 286 }, xDomain: [0.035, 2.565], yDomain: [-0.135, 3.38],
    points: build(aOutliers, aCoreRows, aDenseRows, aDenserRows), fit: aFit, notes: aNotes, noteDx: 256, noteDy: [42, 82, 117],
    xTicks: aXTicks, xFmt: '.1f', yTicks: abYTicks, yLabels: abYLabels, yFmt: '.1f', xTitle: 'growth', letter: [20, 83] },
  { id: 'B', box: { x0: 711.7, y0: 50, x1: 1136.7, y1: 286 }, xDomain: [7.2, 78.6], yDomain: [-0.134, 3.376],
    points: build(bOutliers, bCoreRows, bDenseRows, bDenserRows), fit: bFit, notes: bNotes, noteDx: 230, noteDy: [62, 103, 138],
    xTicks: bXTicks, xFmt: 'd', yTicks: abYTicks, yLabels: abYLabels, yFmt: '.1f', xTitle: 'stock', letter: [1163, 82] },
  { id: 'C', box: { x0: 161.7, y0: 421, x1: 586, y1: 657 }, xDomain: [-0.042, 1.914], yDomain: [-0.155, 3.9],
    points: build(cOutliers, cCoreRows), fit: cFit, notes: cNotes, noteDx: 260, noteDy: [47, 89, 122],
    xTicks: cXTicks, xFmt: '.1f', yTicks: cdYTicks, yLabels: cdYTicks, yFmt: 'd', xTitle: 'growth', letter: [17, 445] },
  { id: 'D', box: { x0: 706.7, y0: 412, x1: 1130.7, y1: 648 }, xDomain: [-1.4, 111.4], yDomain: [-0.155, 3.89],
    points: build(dOutliers, dCoreRows), fit: dFit, notes: dNotes, noteDx: 28, noteDy: [70, 111, 146],
    xTicks: dXTicks, xFmt: 'd', yTicks: cdYTicks, yLabels: cdYTicks, yFmt: 'd', xTitle: 'stock', letter: [1167, 445] },
  { id: 'E', box: { x0: 160, y0: 790, x1: 584, y1: 1026 }, xDomain: [-0.075, 2.017], yDomain: [-0.096, 2.344],
    points: build(eOutliers, eCoreRows, eDenseRows, eDenserRows), fit: eFit, notes: eNotes, noteDx: 142, noteDy: [57, 98, 133],
    xTicks: eXTicks, xFmt: '.1f', yTicks: efYTicks, yLabels: efYLabels, yFmt: '.1f', xTitle: 'growth', letter: [23, 810] },
  { id: 'F', box: { x0: 706.7, y0: 790, x1: 1131.7, y1: 1026 }, xDomain: [-1.65, 48.55], yDomain: [-0.093, 2.345],
    points: build(fOutliers, fCoreRows, fDenseRows, fDenserRows), fit: fFit, notes: fNotes, noteDx: 238, noteDy: [67, 108, 143],
    xTicks: fXTicks, xFmt: 'd', yTicks: efYTicks, yLabels: efYLabels, yFmt: '.1f', xTitle: 'stock', letter: [1168, 810] },
];

const SANS = '"Liberation Sans", Arial, Helvetica, sans-serif';
const SERIF = '"Liberation Serif", "Times New Roman", serif';
const FS = 29;
const SUPFS = 20;
const SUPDY = 12;

type Part = [string, boolean];
const growthParts: Part[] = [['Growth (Kg m', false], ['\u22122', true], ['y', false], ['\u22121', true], [')', false]];
const stockParts: Part[] = [['Carbon stock (Kg m', false], ['\u22122', true], [')', false]];
const lossParts: Part[] = [['Carbon loss (Kg m', false], ['\u22122', true], ['y', false], ['\u22121', true], [')', false]];

function rich(parts: Part[]) {
  let raised = false;
  return parts.map(([t, sup], i) => {
    let dy = 0;
    if (sup && !raised) { dy = -SUPDY; raised = true; }
    else if (!sup && raised) { dy = SUPDY; raised = false; }
    return (
      <tspan key={i} dy={dy !== 0 ? dy : undefined} fontSize={sup ? SUPFS : FS}>{t}</tspan>
    );
  });
}

function Panel({ p }: { p: PanelSpec }) {
  const { x0, y0, x1, y1 } = p.box;
  const xs = d3.scaleLinear().domain(p.xDomain).range([x0, x1]);
  const ys = d3.scaleLinear().domain(p.yDomain).range([y1, y0]);
  const xf = d3.format(p.xFmt);
  const yf = d3.format(p.yFmt);
  const line = d3.line<number>().x((x) => xs(x)).y((x) => ys(p.fit[0] + p.fit[1] * x));
  const clipId = `clip-${p.id}`;
  const nx = x0 + p.noteDx;
  const cy = (y0 + y1) / 2;
  const cx = (x0 + x1) / 2;
  const second = p.notes[1];
  const isEq = second.startsWith('=');
  return (
    <g>
      <defs>
        <clipPath id={clipId}>
          <rect x={x0} y={y0} width={x1 - x0} height={y1 - y0} />
        </clipPath>
      </defs>
      <g clipPath={`url(#${clipId})`}>
        {p.points.map((d, i) => (
          <circle key={i} cx={xs(d[0])} cy={ys(d[1])} r={5.3} fill="none" stroke="#000" strokeWidth={1.25} />
        ))}
        <path d={line(p.xDomain) || ''} fill="none" stroke="#000" strokeWidth={1.2} />
      </g>
      <rect x={x0} y={y0} width={x1 - x0} height={y1 - y0} fill="none" stroke="#000" strokeWidth={1.3} />
      {p.xTicks.map((t) => (
        <g key={`xt${t}`}>
          <line x1={xs(t)} x2={xs(t)} y1={y1} y2={y1 + 13} stroke="#000" strokeWidth={1.2} />
          <text x={xs(t)} y={y1 + 50} textAnchor="middle" fontFamily={SANS} fontSize={FS}>{xf(t)}</text>
        </g>
      ))}
      {p.yTicks.map((t) => (
        <line key={`yt${t}`} x1={x0 - 13} x2={x0} y1={ys(t)} y2={ys(t)} stroke="#000" strokeWidth={1.2} />
      ))}
      {p.yLabels.map((t) => (
        <text key={`yl${t}`} transform={`translate(${x0 - 35},${ys(t)}) rotate(-90)`} textAnchor="middle"
          fontFamily={SANS} fontSize={FS}>{yf(t)}</text>
      ))}
      <text x={cx} y={y1 + 95} textAnchor="middle" fontFamily={SANS} fontSize={FS}>
        {rich(p.xTitle === 'growth' ? growthParts : stockParts)}
      </text>
      <text transform={`translate(${x0 - 68},${cy - 4}) rotate(-90)`} textAnchor="middle" fontFamily={SANS} fontSize={FS}>
        {rich(lossParts)}
      </text>
      <text x={nx} y={y0 + p.noteDy[0]} fontFamily={SERIF} fontSize={FS}>{p.notes[0]}</text>
      <text x={nx} y={y0 + p.noteDy[1]} fontFamily={SERIF} fontSize={FS}>
        R<tspan fontSize={17} dy={-24}>2</tspan>
        <tspan dy={24} dx={isEq ? -5 : 5}>{second}</tspan>
      </text>
      <text x={nx} y={y0 + p.noteDy[2]} fontFamily={SERIF} fontSize={FS}>{p.notes[2]}</text>
      <text x={p.letter[0]} y={p.letter[1]} textAnchor="middle" dominantBaseline="central"
        fontFamily='Lato, "Open Sans", sans-serif' fontSize={26}>{p.id}</text>
    </g>
  );
}

export default function App() {
  return (
    <svg width={1183} height={1132} viewBox="0 0 1183 1132"
      style={{ position: 'absolute', left: 0, top: 0, background: '#fff' }}>
      <rect x={0} y={0} width={1183} height={1132} fill="#fff" />
      {panels.map((p) => <Panel key={p.id} p={p} />)}
    </svg>
  );
}
